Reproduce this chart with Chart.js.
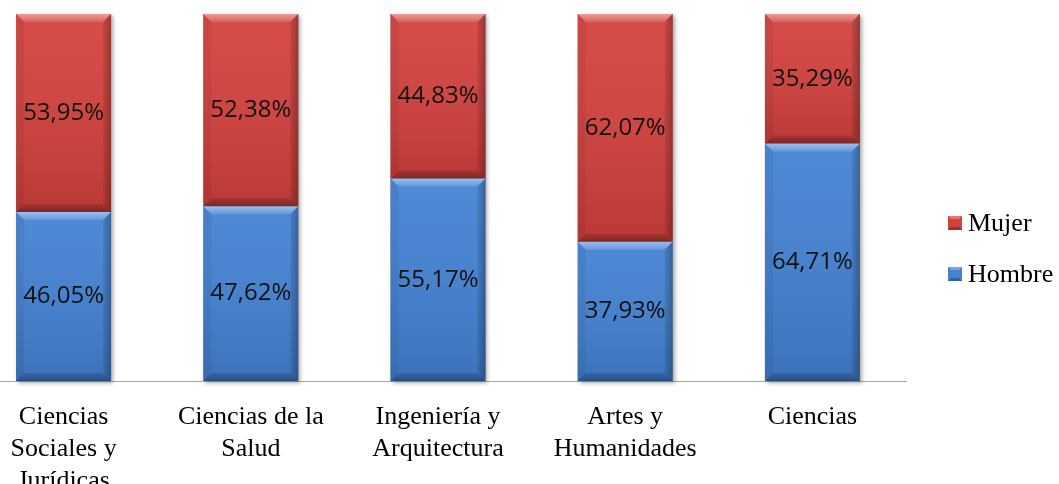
<!DOCTYPE html>
<html>
<head>
<meta charset="utf-8">
<script src="https://cdn.jsdelivr.net/npm/chart.js@4"></script>
<style>
  html, body { margin: 0; padding: 0; background: #fff; overflow: hidden; }
  #wrap { position: relative; width: 1059px; height: 484px; overflow: hidden; }
  #chart { position: absolute; left: -30px; top: 0; }
</style>
</head>
<body>
<div id="wrap"><canvas id="chart" width="1089" height="484"></canvas></div>
<script>
  // categories and percentages
  const categories = [
    ['Ciencias', 'Sociales y', 'Jurídicas'],
    ['Ciencias de la', 'Salud'],
    ['Ingeniería y', 'Arquitectura'],
    ['Artes y', 'Humanidades'],
    'Ciencias'
  ];
  const hombre = [46.05, 47.62, 55.17, 37.93, 64.71];
  const mujer = [53.95, 52.38, 44.83, 62.07, 35.29];

  const OFFSET = 30; // canvas is shifted left by this much

  // bevel + value labels, drawn on top of the bars the library laid out
  const bevelPlugin = {
    id: 'bevel',
    beforeDatasetsDraw(chart) {
      const ctx = chart.ctx;
      const metas = chart.data.datasets.map((d, i) => chart.getDatasetMeta(i));
      ctx.save();
      ctx.shadowColor = 'rgba(0,0,0,0.35)';
      ctx.shadowBlur = 4;
      ctx.shadowOffsetX = 2;
      ctx.shadowOffsetY = 2;
      ctx.fillStyle = '#888';
      metas[0].data.forEach((el, i) => {
        const top = metas[metas.length - 1].data[i].y;
        const w = el.width;
        ctx.fillRect(el.x - w / 2, top, w, el.base - top);
      });
      ctx.restore();
    },
    afterDatasetsDraw(chart) {
      const ctx = chart.ctx;
      chart.data.datasets.forEach((ds, di) => {
        const meta = chart.getDatasetMeta(di);
        meta.data.forEach((el, i) => {
          const l = el.x - el.width / 2, r = el.x + el.width / 2;
          const t = el.y, b = el.base;
          const k = 8;
          ctx.save();
          const g = ctx.createLinearGradient(0, t, 0, b);
          g.addColorStop(0, 'rgba(255,255,255,0.06)');
          g.addColorStop(1, 'rgba(0,0,0,0.12)');
          ctx.fillStyle = g;
          ctx.fillRect(l, t, r - l, b - t);
          const poly = (pts, c) => {
            ctx.beginPath();
            ctx.moveTo(pts[0][0], pts[0][1]);
            pts.slice(1).forEach(p => ctx.lineTo(p[0], p[1]));
            ctx.closePath();
            ctx.fillStyle = c;
            ctx.fill();
          };
          const gt = ctx.createLinearGradient(0, t, 0, t + k);
          gt.addColorStop(0, 'rgba(255,255,255,0.45)');
          gt.addColorStop(1, 'rgba(255,255,255,0.12)');
          poly([[l, t], [r, t], [r - k, t + k], [l + k, t + k]], gt);
          const gr = ctx.createLinearGradient(r - k, 0, r, 0);
          gr.addColorStop(0, 'rgba(0,0,0,0.08)');
          gr.addColorStop(1, 'rgba(0,0,0,0.28)');
          poly([[r, t], [r, b], [r - k, b - k], [r - k, t + k]], gr);
          const gb = ctx.createLinearGradient(0, b - k, 0, b);
          gb.addColorStop(0, 'rgba(0,0,0,0.12)');
          gb.addColorStop(1, 'rgba(0,0,0,0.32)');
          poly([[l, b], [r, b], [r - k, b - k], [l + k, b - k]], gb);
          poly([[l, t], [l + k, t + k], [l + k, b - k], [l, b]], 'rgba(0,0,0,0.06)');
          ctx.fillStyle = '#111';
          ctx.font = '24px "Open Sans"';
          ctx.textAlign = 'center';
          ctx.textBaseline = 'middle';
          ctx.fillText(ds.data[i].toFixed(2).replace('.', ',') + '%', el.x, (t + b) / 2);
          ctx.restore();
        });
      });
    },
    afterDraw(chart) {
      const ctx = chart.ctx;
      const items = [
        { ds: chart.data.datasets[1], y: 223 },
        { ds: chart.data.datasets[0], y: 274 }
      ];
      items.forEach(it => {
        const x = 948 + OFFSET, s = 14, y0 = it.y - s / 2;
        ctx.save();
        ctx.fillStyle = it.ds.backgroundColor;
        ctx.fillRect(x, y0, s, s);
        ctx.fillStyle = 'rgba(255,255,255,0.3)';
        ctx.beginPath();
        ctx.moveTo(x, y0); ctx.lineTo(x + s, y0); ctx.lineTo(x + s - 3, y0 + 3); ctx.lineTo(x + 3, y0 + 3);
        ctx.fill();
        ctx.fillStyle = 'rgba(0,0,0,0.25)';
        ctx.beginPath();
        ctx.moveTo(x, y0 + s); ctx.lineTo(x + s, y0 + s); ctx.lineTo(x + s - 3, y0 + s - 3); ctx.lineTo(x + 3, y0 + s - 3);
        ctx.fill();
        ctx.fillStyle = '#000';
        ctx.font = '26px "Liberation Serif"';
        ctx.textBaseline = 'middle';
        ctx.fillText(it.ds.label, x + 20, it.y + 1);
        ctx.restore();
      });
    }
  };

  const ctx = document.getElementById('chart').getContext('2d');
  const chart = new Chart(ctx, {
    type: 'bar',
    data: {
      labels: categories,
      datasets: [
        { label: 'Hombre', data: hombre, backgroundColor: '#4382d4' },
        { label: 'Mujer', data: mujer, backgroundColor: '#d4413d' }
      ]
    },
    options: {
      responsive: false,
      devicePixelRatio: 1,
      animation: false,
      categoryPercentage: 1,
      barPercentage: 0.507,
      layout: { padding: { top: 14, right: 153, left: 0, bottom: 0 } },
      plugins: { legend: { display: false }, tooltip: { enabled: false } },
      scales: {
        x: {
          stacked: true,
          grid: { display: false, drawTicks: false },
          border: { display: true, color: '#a6a6a6', width: 1 },
          ticks: {
            color: '#000',
            font: { family: '"Liberation Serif"', size: 26, lineHeight: 1.23 },
            padding: 20,
            maxRotation: 0,
            autoSkip: false
          },
          afterFit(scale) { scale.height = 103; }
        },
        y: { stacked: true, min: 0, max: 100, display: false }
      }
    },
    plugins: [bevelPlugin]
  });
</script>
</body>
</html>
